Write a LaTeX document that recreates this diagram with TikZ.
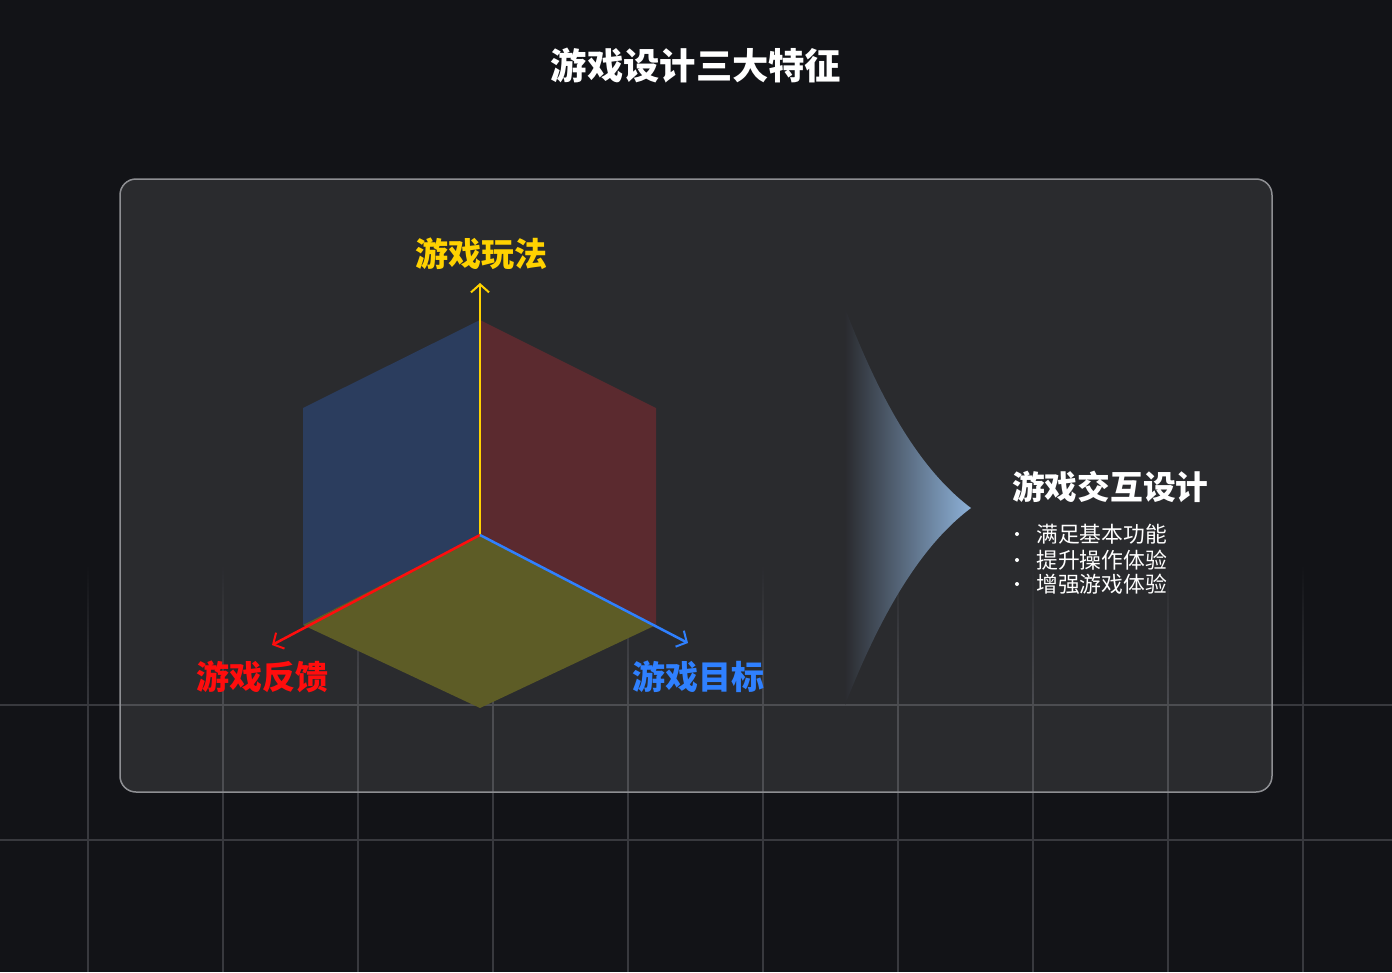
\documentclass[tikz,border=0pt]{standalone}
\usepackage{fontspec}
\newfontfamily\cjk{Noto Sans CJK SC}
\usetikzlibrary{arrows.meta}
\definecolor{bgc}{HTML}{121317}
\definecolor{gridc}{HTML}{38393E}
\definecolor{borderc}{HTML}{8E8F93}
\definecolor{axy}{HTML}{FFD200}
\definecolor{axr}{HTML}{FF0D0D}
\definecolor{axb}{HTML}{2F80FF}
\definecolor{faceb}{HTML}{2B3D5E}
\definecolor{facer}{HTML}{5B2A2F}
\definecolor{facey}{HTML}{5D5C26}
\definecolor{fanc}{HTML}{8DB1D8}
\definecolor{cardc}{HTML}{2A2B2F}
\tikzset{
  axis/.style={line width=2.5pt,-{Straight Barb[length=8pt,width=18pt,line width=2pt]}},
  axlabel/.style={font=\cjk\bfseries\fontsize{33}{36}\selectfont, inner sep=0pt},
  bodytext/.style={font=\cjk\fontsize{21.8}{24}\selectfont, text=white, inner sep=0pt, anchor=west},
}
\begin{document}
\begin{tikzpicture}[x=1pt,y=-1pt]
\useasboundingbox (0,0) rectangle (1392,972);
\fill[bgc] (0,0) rectangle (1392,972);
% grid
\foreach \gx in {88,223,358,493,628,763,898,1033,1168,1303}{
  \shade[top color=bgc, bottom color=gridc] (\gx-0.55,565) rectangle (\gx+0.55,715);
  \fill[gridc] (\gx-0.55,715) rectangle (\gx+0.55,972);
}
\foreach \gy in {705,840}{
  \fill[gridc] (0,\gy-0.55) rectangle (1392,\gy+0.55);
}
% card
\draw[borderc, line width=1.5pt, fill=white, fill opacity=0.1, rounded corners=16pt] (120,179) rectangle (1272,792);
% title
\node[font=\cjk\bfseries\fontsize{36.3}{40}\selectfont, text=white, inner sep=0pt] (title) at (696,66) {游戏设计三大特征};
% cube faces
\coordinate (o) at (480,535);
\fill[faceb] (480,320) -- (303,408) -- (303,625) -- (o) -- cycle;
\fill[facer] (480,320) -- (656,408) -- (656,625) -- (o) -- cycle;
\fill[facey] (o) -- (303,625) -- (480,708) -- (656,625) -- cycle;
% axes
\coordinate (ty) at (480,283);
\coordinate (tr) at (272,645);
\coordinate (tb) at (688,643);
\draw[axis, axy] (o) -- (ty);
\draw[axis, axr] (o) -- (tr);
\draw[axis, axb] (o) -- (tb);
\node[axlabel, text=axy] (ly) at (481,254) {游戏玩法};
\node[axlabel, text=axr] (lr) at (262,677) {游戏反馈};
\node[axlabel, text=axb] (lb) at (698,677) {游戏目标};
% fan
\shade[left color=cardc, right color=fanc] (845,308) .. controls (880,400) and (920,470) .. (971,508) .. controls (920,546) and (880,616) .. (845,705) -- cycle;
% right text
\node[font=\cjk\bfseries\fontsize{32.7}{36}\selectfont, text=white, inner sep=0pt, anchor=west] (rt) at (1012,487) {游戏交互设计};
\node[bodytext] (b1) at (1036,534) {满足基本功能};
\node[bodytext] (b2) at (1036,560) {提升操作体验};
\node[bodytext] (b3) at (1036,584) {增强游戏体验};
\foreach \by in {534,560,584}{ \fill[white] (1017,\by) circle (2pt); }
\end{tikzpicture}
\end{document}
